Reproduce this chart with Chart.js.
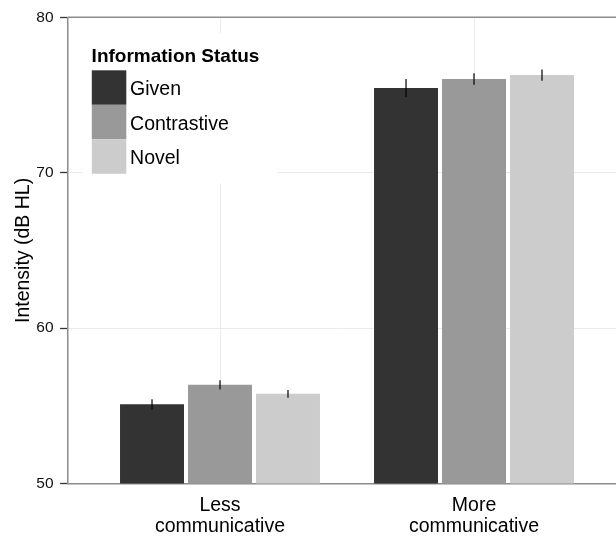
<!DOCTYPE html>
<html>
<head>
<meta charset="utf-8">
<script src="https://cdn.jsdelivr.net/npm/chart.js@4"></script>
<style>
  html, body { margin: 0; padding: 0; background: #ffffff; overflow: hidden; }
  #wrap { width: 616px; height: 537px; }
</style>
</head>
<body>
<div id="wrap"><canvas id="c" width="616" height="537"></canvas></div>
<script>
// Conditions on the x axis (positions 1 and 2)
const categories = ['Less communicative', 'More communicative'];
const seriesNames = ['Given', 'Contrastive', 'Novel'];
const seriesColors = ['#333333', '#999999', '#cccccc'];

// Mean intensity (dB HL) per condition
const givenMeans = [55.10, 75.45];
const contrastiveMeans = [56.35, 76.03];
const novelMeans = [55.77, 76.28];

// Standard errors
const givenErr = [0.32, 0.58];
const contrastiveErr = [0.30, 0.37];
const novelErr = [0.25, 0.36];

const yTicks = [50, 60, 70, 80];

const FONT = '"Liberation Sans", Arial, Helvetica, sans-serif';

function points(vals) {
  return vals.map((v, i) => ({ x: i + 1, y: v }));
}

const means = [givenMeans, contrastiveMeans, novelMeans];
const errs = [givenErr, contrastiveErr, novelErr];

const datasets = seriesNames.map((name, k) => ({
  label: name,
  data: points(means[k]),
  backgroundColor: seriesColors[k],
  borderWidth: 0,
  errors: errs[k],
  categoryPercentage: 0.803,
  barPercentage: 0.941
}));

// Vertical error bars through each bar top
const errorBars = {
  id: 'errorBars',
  afterDatasetsDraw(chart) {
    const ctx = chart.ctx;
    const y = chart.scales.y;
    ctx.save();
    ctx.strokeStyle = '#000000';
    ctx.lineWidth = 1.2;
    chart.data.datasets.forEach((ds, di) => {
      const meta = chart.getDatasetMeta(di);
      meta.data.forEach((bar, i) => {
        const v = ds.data[i].y, e = ds.errors[i];
        ctx.beginPath();
        ctx.moveTo(bar.x, y.getPixelForValue(v - e));
        ctx.lineTo(bar.x, y.getPixelForValue(v + e));
        ctx.stroke();
      });
    });
    ctx.restore();
  }
};

// Top frame line
const topFrame = {
  id: 'topFrame',
  beforeDatasetsDraw(chart) {
    const { ctx, chartArea } = chart;
    ctx.save();
    ctx.strokeStyle = '#8c8c8c';
    ctx.lineWidth = 1.5;
    ctx.beginPath();
    ctx.moveTo(chartArea.left, chartArea.top);
    ctx.lineTo(chartArea.right, chartArea.top);
    ctx.stroke();
    ctx.restore();
  }
};

// Legend box inside the plot area
const insetLegend = {
  id: 'insetLegend',
  afterDatasetsDraw(chart) {
    const { ctx, chartArea } = chart;
    const x0 = chartArea.left + 15.5;
    const y0 = chartArea.top + 16;
    ctx.save();
    ctx.fillStyle = '#ffffff';
    ctx.fillRect(x0, y0, 194, 150);
    ctx.fillStyle = '#000000';
    ctx.font = 'bold 19px ' + FONT;
    ctx.textAlign = 'left';
    ctx.textBaseline = 'alphabetic';
    ctx.fillText('Information Status', x0 + 8.5, y0 + 28.7);
    const key = 34.5;
    chart.data.datasets.forEach((ds, k) => {
      const ky = y0 + 37 + k * key;
      ctx.fillStyle = ds.backgroundColor;
      ctx.fillRect(x0 + 8.7, ky, key, key);
      ctx.fillStyle = '#000000';
      ctx.font = '19.5px ' + FONT;
      ctx.fillText(ds.label, x0 + 47, ky + key / 2 + 7.5);
    });
    ctx.restore();
  }
};

new Chart(document.getElementById('c'), {
  type: 'bar',
  data: { datasets },
  plugins: [topFrame, errorBars, insetLegend],
  options: {
    responsive: false,
    animation: false,
    layout: { padding: { top: 17.3, right: 0, bottom: 0, left: 0 } },
    plugins: {
      legend: { display: false },
      tooltip: { enabled: false }
    },
    scales: {
      x: {
        type: 'linear',
        offset: false,
        min: 0.4,
        max: 2.559,
        afterBuildTicks(scale) {
          scale.ticks = categories.map((c, i) => ({ value: i + 1 }));
        },
        afterFit(scale) { scale.height = 53.5; },
        grid: { offset: false, color: '#ebebeb', lineWidth: 1, drawTicks: false },
        border: { display: true, color: '#8c8c8c', width: 1.5 },
        ticks: {
          padding: 11.5,
          color: '#000000',
          font: { family: FONT, size: 19.5, lineHeight: 1.077 },
          callback(value) {
            const c = categories[Math.round(value) - 1];
            return c ? c.split(' ') : '';
          }
        }
      },
      y: {
        type: 'linear',
        min: 50,
        max: 80,
        afterBuildTicks(scale) {
          scale.ticks = yTicks.map(v => ({ value: v }));
        },
        afterFit(scale) { scale.width = 67.6; },
        grid: { color: '#ebebeb', lineWidth: 1, drawTicks: true, tickLength: 7.5, tickColor: '#333333', tickWidth: 1.3 },
        border: { display: true, color: '#8c8c8c', width: 1.5 },
        ticks: {
          padding: 6.5,
          color: '#111111',
          font: { family: FONT, size: 15.5 }
        },
        title: {
          display: true,
          text: 'Intensity (dB HL)',
          color: '#000000',
          font: { family: FONT, size: 19.5, lineHeight: 1.2 },
          padding: { top: 12, bottom: 0 }
        }
      }
    }
  }
});
</script>
</body>
</html>
